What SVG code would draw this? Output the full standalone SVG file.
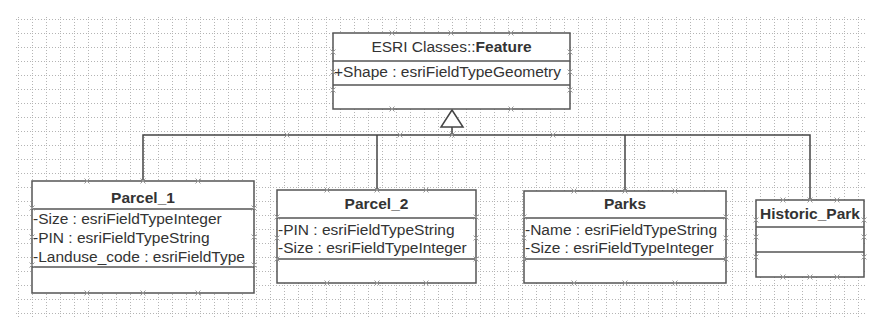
<svg xmlns="http://www.w3.org/2000/svg" xmlns:xlink="http://www.w3.org/1999/xlink" width="874" height="322" viewBox="0 0 874 322">
<style>
.box{fill:#fff;stroke:#555;stroke-width:1.5}
.div{stroke:#555;stroke-width:1.5}
.t{font-family:"Liberation Sans",Arial,sans-serif;font-size:15.5px;fill:#333}
.b{font-weight:bold}
.c{fill:none;stroke:#444;stroke-width:1.5}
.g{stroke:#b4b4b4;stroke-width:1;stroke-dasharray:1,2;fill:none}
.xm{stroke:#999;stroke-width:1}
</style>
<defs>
<pattern id="grid" patternUnits="userSpaceOnUse" x="4" y="5" width="14" height="14">
<path class="g" d="M0.5 0V14M0 0.5H14"/>
</pattern>
<g id="x"><path class="xm" d="M-2.5 -2.5L2.5 2.5M-2.5 2.5L2.5 -2.5"/></g>
</defs>
<rect width="874" height="322" fill="#fff"/>
<rect x="14" y="15" width="852" height="303" fill="url(#grid)"/>

<g id="connectors">
<path class="c" d="M143 181V135H810V200M377 135V190M625 135V190M452 127V135"/>
<polygon points="452,110 441,127 463,127" fill="#fff" stroke="#444" stroke-width="1.5"/>
<use href="#x" x="287" y="135"/><use href="#x" x="400" y="135"/><use href="#x" x="452" y="135"/><use href="#x" x="553" y="135"/>
</g>

<g id="feature">
<rect class="box" x="333" y="33" width="237" height="76"/>
<line class="div" x1="333" y1="61" x2="570" y2="61"/>
<line class="div" x1="333" y1="85" x2="570" y2="85"/>
<text class="t" x="451.5" y="52" text-anchor="middle">ESRI Classes::<tspan class="b">Feature</tspan></text>
<text class="t" x="334" y="77">+Shape : esriFieldTypeGeometry</text>
<use href="#x" x="392" y="33"/><use href="#x" x="451" y="33"/><use href="#x" x="511" y="33"/>
<use href="#x" x="392" y="109"/><use href="#x" x="511" y="109"/>
<use href="#x" x="333" y="52"/><use href="#x" x="333" y="72"/><use href="#x" x="333" y="90"/>
<use href="#x" x="570" y="52"/><use href="#x" x="570" y="72"/><use href="#x" x="570" y="90"/>
</g>

<g id="parcel1">
<rect class="box" x="32" y="181" width="222" height="112"/>
<line class="div" x1="32" y1="209" x2="254" y2="209"/>
<line class="div" x1="32" y1="267" x2="254" y2="267"/>
<text class="t b" x="143" y="203" text-anchor="middle">Parcel_1</text>
<text class="t" x="33" y="224">-Size : esriFieldTypeInteger</text>
<text class="t" x="33" y="243">-PIN : esriFieldTypeString</text>
<text class="t" x="33" y="262">-Landuse_code : esriFieldType</text>
<use href="#x" x="87" y="181"/><use href="#x" x="143" y="181"/><use href="#x" x="198" y="181"/>
<use href="#x" x="87" y="293"/><use href="#x" x="143" y="293"/><use href="#x" x="198" y="293"/>
<use href="#x" x="32" y="208"/><use href="#x" x="32" y="237"/><use href="#x" x="32" y="265"/>
<use href="#x" x="254" y="208"/><use href="#x" x="254" y="237"/><use href="#x" x="254" y="265"/>
</g>

<g id="parcel2">
<rect class="box" x="277" y="190" width="199" height="93"/>
<line class="div" x1="277" y1="218" x2="476" y2="218"/>
<line class="div" x1="277" y1="259" x2="476" y2="259"/>
<text class="t b" x="376.5" y="209" text-anchor="middle">Parcel_2</text>
<text class="t" x="278" y="235">-PIN : esriFieldTypeString</text>
<text class="t" x="278" y="253">-Size : esriFieldTypeInteger</text>
<use href="#x" x="327" y="190"/><use href="#x" x="377" y="190"/><use href="#x" x="426" y="190"/>
<use href="#x" x="327" y="283"/><use href="#x" x="377" y="283"/><use href="#x" x="426" y="283"/>
<use href="#x" x="277" y="217"/><use href="#x" x="277" y="238"/><use href="#x" x="277" y="259"/>
<use href="#x" x="476" y="217"/><use href="#x" x="476" y="238"/><use href="#x" x="476" y="259"/>
</g>

<g id="parks">
<rect class="box" x="524" y="191" width="202" height="92"/>
<line class="div" x1="524" y1="218" x2="726" y2="218"/>
<line class="div" x1="524" y1="259" x2="726" y2="259"/>
<text class="t b" x="625" y="209" text-anchor="middle">Parks</text>
<text class="t" x="525" y="235">-Name : esriFieldTypeString</text>
<text class="t" x="525" y="253">-Size : esriFieldTypeInteger</text>
<use href="#x" x="574" y="191"/><use href="#x" x="625" y="191"/><use href="#x" x="675" y="191"/>
<use href="#x" x="574" y="283"/><use href="#x" x="625" y="283"/><use href="#x" x="675" y="283"/>
<use href="#x" x="524" y="217"/><use href="#x" x="524" y="238"/><use href="#x" x="524" y="259"/>
<use href="#x" x="726" y="217"/><use href="#x" x="726" y="238"/><use href="#x" x="726" y="259"/>
</g>

<g id="historic_park">
<rect class="box" x="756" y="200" width="108" height="77"/>
<line class="div" x1="756" y1="227" x2="864" y2="227"/>
<line class="div" x1="756" y1="252" x2="864" y2="252"/>
<text class="t b" x="810" y="219" text-anchor="middle">Historic_Park</text>
<use href="#x" x="783" y="200"/><use href="#x" x="810" y="200"/><use href="#x" x="837" y="200"/>
<use href="#x" x="783" y="277"/><use href="#x" x="810" y="277"/><use href="#x" x="837" y="277"/>
<use href="#x" x="756" y="220"/><use href="#x" x="756" y="237"/><use href="#x" x="756" y="257"/>
<use href="#x" x="864" y="220"/><use href="#x" x="864" y="237"/><use href="#x" x="864" y="257"/>
</g>
</svg>
